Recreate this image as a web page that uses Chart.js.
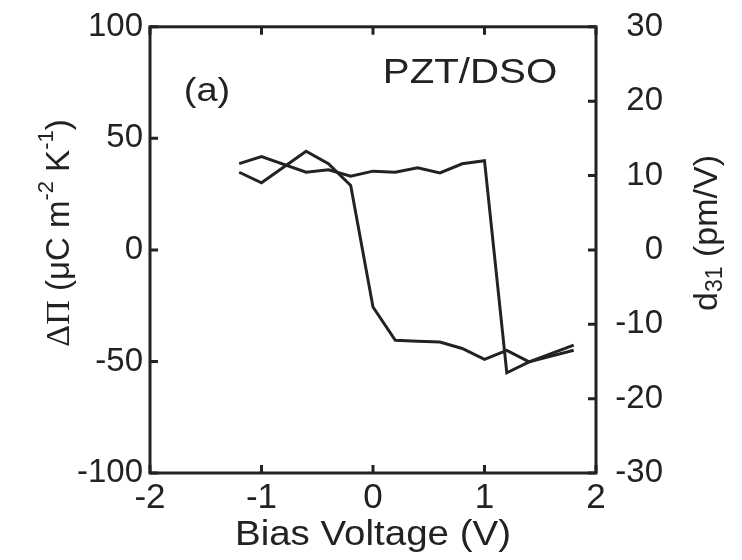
<!DOCTYPE html>
<html>
<head>
<meta charset="utf-8">
<script src="https://cdn.jsdelivr.net/npm/chart.js@4.4.1/dist/chart.umd.min.js"></script>
<style>
  html, body { margin: 0; padding: 0; background: #fff; }
  #wrap { width: 742px; height: 560px; position: relative; }
</style>
</head>
<body>
<div id="wrap"><canvas id="loop"></canvas></div>
<script>
// branch that switches near 0 V
var biasDown = [-1.2, -1.0, -0.6, -0.4, -0.2, 0.0, 0.2, 0.4, 0.6, 0.8, 1.0, 1.2, 1.4, 1.8]
var piDown = [34.8, 30.1, 44.2, 38.6, 28.9, -25.6, -40.5, -41.0, -41.3, -44.2, -49.1, -45.0, -50.2, -42.7]
// branch that switches near 1 V
var biasUp = [-1.2, -1.0, -0.6, -0.4, -0.2, 0.0, 0.2, 0.4, 0.6, 0.8, 1.0, 1.2, 1.4, 1.8]
var piUp = [38.7, 41.8, 34.8, 35.9, 33.0, 35.3, 34.8, 36.8, 34.5, 38.6, 40.0, -55.1, -50.2, -45.0]

var xTicks = [-2, -1, 0, 1, 2]
var piTicks = [-100, -50, 0, 50, 100]
var d31Ticks = [-30, -20, -10, 0, 10, 20, 30]

var ink = "#222"
var sans = '"Liberation Sans", Arial, sans-serif'
var serif = '"Liberation Serif", "Times New Roman", serif'

function toPoints(xs, ys) {
    return xs.map((x, i) => { return { x: x, y: ys[i] }; });
}

// draws a row of text pieces (for super/subscripts), centered on (0,0)
function drawPieces(ctx, pieces) {
    var total = 0
    pieces.forEach((p) => { ctx.font = p.font; p.w = ctx.measureText(p.text).width; total += p.w; })
    var x = -total / 2
    pieces.forEach((p) => {
        ctx.font = p.font
        ctx.fillText(p.text, x, p.dy || 0)
        x += p.w
    })
}

var framePlugin = {
    id: "frame",
    afterDraw(chart) {
        const { ctx, chartArea: a, scales } = chart
        ctx.save()
        ctx.strokeStyle = ink
        ctx.lineWidth = 3
        ctx.strokeRect(a.left, a.top, a.right - a.left, a.bottom - a.top)

        // inward tick marks on all four sides
        const len = 8
        ctx.beginPath()
        scales.x.ticks.forEach((t) => {
            const px = scales.x.getPixelForValue(t.value)
            ctx.moveTo(px, a.bottom); ctx.lineTo(px, a.bottom - len)
            ctx.moveTo(px, a.top); ctx.lineTo(px, a.top + len)
        })
        scales.y.ticks.forEach((t) => {
            const py = scales.y.getPixelForValue(t.value)
            ctx.moveTo(a.left, py); ctx.lineTo(a.left + len, py)
        })
        scales.y2.ticks.forEach((t) => {
            const py = scales.y2.getPixelForValue(t.value)
            ctx.moveTo(a.right, py); ctx.lineTo(a.right - len, py)
        })
        ctx.stroke()

        ctx.fillStyle = ink
        ctx.textBaseline = "middle"
        ctx.textAlign = "left"

        // x title
        ctx.save()
        ctx.translate((a.left + a.right) / 2, 535)
        ctx.scale(1.1, 1)
        drawPieces(ctx, [{ text: "Bias Voltage (V)", font: "35px " + sans }])
        ctx.restore()

        // left title
        ctx.save()
        ctx.translate(60, 233)
        ctx.rotate(-Math.PI / 2)
        drawPieces(ctx, [
            { text: "\u0394\u03A0", font: "34px " + serif },
            { text: " (\u03BCC m", font: "33px " + sans },
            { text: "-2", font: "22px " + sans, dy: -13 },
            { text: " K", font: "33px " + sans },
            { text: "-1", font: "22px " + sans, dy: -13 },
            { text: ")", font: "33px " + sans }
        ])
        ctx.restore()

        // right title
        ctx.save()
        ctx.translate(708, 233)
        ctx.rotate(-Math.PI / 2)
        drawPieces(ctx, [
            { text: "d", font: "34px " + sans },
            { text: "31", font: "23px " + sans, dy: 8 },
            { text: " (pm/V)", font: "34px " + sans }
        ])
        ctx.restore()

        // panel label and sample name
        ctx.save()
        ctx.translate(207, 92)
        ctx.scale(1.15, 1)
        drawPieces(ctx, [{ text: "(a)", font: "33px " + sans }])
        ctx.restore()

        ctx.save()
        ctx.translate(470, 73)
        ctx.scale(1.15, 1)
        drawPieces(ctx, [{ text: "PZT/DSO", font: "35px " + sans }])
        ctx.restore()

        ctx.restore()
    }
}

function lineSet(xs, ys) {
    return {
        data: toPoints(xs, ys),
        borderColor: ink,
        borderWidth: 3,
        pointRadius: 0,
        fill: false,
        tension: 0,
        yAxisID: "y",
    }
}

var chartOptions = {
    responsive: true,
    maintainAspectRatio: false,
    animation: false,
    events: [],
    layout: { padding: { top: 26, right: 79, left: 0, bottom: 0 } },
    plugins: { legend: { display: false }, tooltip: { enabled: false } },
    scales: {
        x: {
            type: "linear",
            min: -2, max: 2,
            afterBuildTicks: (s) => { s.ticks = xTicks.map((v) => { return { value: v }; }); },
            afterFit: (s) => { s.height = 87; },
            grid: { display: false, drawTicks: false },
            border: { display: false },
            ticks: { color: ink, font: { family: sans, size: 35 }, padding: 4, maxRotation: 0, autoSkip: false },
        },
        y: {
            position: "left",
            min: -100, max: 100,
            afterBuildTicks: (s) => { s.ticks = piTicks.map((v) => { return { value: v }; }); },
            afterFit: (s) => { s.width = 150; },
            grid: { display: false, drawTicks: false },
            border: { display: false },
            ticks: { color: ink, font: { family: sans, size: 33 }, padding: 7, autoSkip: false },
        },
        y2: {
            position: "right",
            min: -30, max: 30,
            afterBuildTicks: (s) => { s.ticks = d31Ticks.map((v) => { return { value: v }; }); },
            afterFit: (s) => { s.width = 67; },
            grid: { display: false, drawTicks: false },
            border: { display: false },
            ticks: { color: ink, font: { family: sans, size: 33 }, crossAlign: "far", autoSkip: false },
        },
    },
}

new Chart(document.getElementById("loop").getContext("2d"), {
    type: "line",
    data: { datasets: [lineSet(biasDown, piDown), lineSet(biasUp, piUp)] },
    options: chartOptions,
    plugins: [framePlugin],
})
</script>
</body>
</html>
